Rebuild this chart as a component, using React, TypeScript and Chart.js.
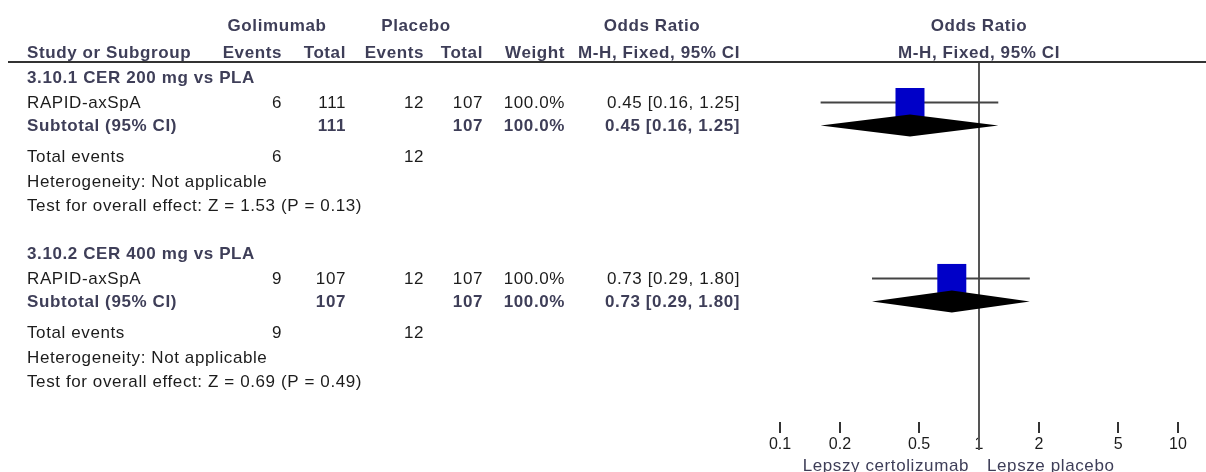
import React, { useEffect, useRef } from 'react';
import { Chart, registerables } from 'chart.js';

Chart.register(...registerables);

// ---- data ----
const GROUPS = ['3.10.1 CER 200 mg vs PLA', '3.10.2 CER 400 mg vs PLA'];
const STUDIES = ['RAPID-axSpA', 'RAPID-axSpA'];
const GOL_EVENTS = [6, 9];
const GOL_TOTAL = [111, 107];
const PLA_EVENTS = [12, 12];
const PLA_TOTAL = [107, 107];
const WEIGHTS = [100.0, 100.0];
const ODDS = [0.45, 0.73];
const CI_LOW = [0.16, 0.29];
const CI_HIGH = [1.25, 1.8];
const Z_VALUES = ['1.53', '0.69'];
const P_VALUES = ['0.13', '0.49'];
const X_TICKS = [0.1, 0.2, 0.5, 1, 2, 5, 10];
const LEGEND_LEFT = 'Lepszy certolizumab';
const LEGEND_RIGHT = 'Lepsze placebo';

// ---- row layout (row units on the y scale) ----
const GROUP_START = [0, 6.9];
const OFF_STUDY = 1.0;
const OFF_SUB = 1.9;
const OFF_TOTAL = 3.1;
const OFF_HET = 4.1;
const OFF_TEST = 5.05;
const HEADER1_ROW = -2.04;
const HEADER2_ROW = -0.98;
const Y_MIN = -0.588;
const Y_MAX = 13.53;

const HEAD_COLOR = '#3e3e58';
const TEXT_COLOR = '#1c1c1c';
const FONT_FAMILY = '"Liberation Sans", Arial, sans-serif';
const FS = 17;

const COL = { study: 27, golEv: 282, golTot: 346, plaEv: 424, plaTot: 483, weight: 565, or: 740 };

const fmtOR = (i: number) =>
  `${ODDS[i].toFixed(2)} [${CI_LOW[i].toFixed(2)}, ${CI_HIGH[i].toFixed(2)}]`;

export default function App() {
  const ref = useRef<HTMLCanvasElement>(null);

  useEffect(() => {
    document.body.style.margin = '0';
    const canvas = ref.current!;

    const forestPlugin = {
      id: 'forest',
      beforeDatasetsDraw(chart: any) {
        const { ctx, scales } = chart;
        const xs = scales.x;
        const ys = scales.y;
        ctx.save();
        // line of no effect
        const x1 = xs.getPixelForValue(1);
        ctx.strokeStyle = '#555';
        ctx.lineWidth = 2;
        ctx.beginPath();
        ctx.moveTo(x1, chart.chartArea.top);
        ctx.lineTo(x1, chart.chartArea.bottom + 28);
        ctx.stroke();
        // whiskers
        ctx.strokeStyle = '#444';
        ctx.lineWidth = 2;
        GROUPS.forEach((_, i) => {
          const y = ys.getPixelForValue(GROUP_START[i] + OFF_STUDY);
          ctx.beginPath();
          ctx.moveTo(xs.getPixelForValue(CI_LOW[i]), y);
          ctx.lineTo(xs.getPixelForValue(CI_HIGH[i]), y);
          ctx.stroke();
        });
        ctx.restore();
      },
      afterDatasetsDraw(chart: any) {
        const { ctx, scales } = chart;
        const xs = scales.x;
        const ys = scales.y;
        ctx.save();
        ctx.fillStyle = '#000';
        GROUPS.forEach((_, i) => {
          const y = ys.getPixelForValue(GROUP_START[i] + OFF_SUB);
          const h = 11;
          ctx.beginPath();
          ctx.moveTo(xs.getPixelForValue(CI_LOW[i]), y);
          ctx.lineTo(xs.getPixelForValue(ODDS[i]), y - h);
          ctx.lineTo(xs.getPixelForValue(CI_HIGH[i]), y);
          ctx.lineTo(xs.getPixelForValue(ODDS[i]), y + h);
          ctx.closePath();
          ctx.fill();
        });
        ctx.restore();
      },
      afterDraw(chart: any) {
        const { ctx, scales } = chart;
        const xs = scales.x;
        const ys = scales.y;
        ctx.save();
        try { (ctx as any).letterSpacing = '0.6px'; } catch (e) {}
        ctx.textBaseline = 'middle';
        const txt = (s: string, x: number, row: number, align: CanvasTextAlign, bold: boolean, color: string) => {
          ctx.font = `${bold ? 'bold ' : ''}${FS}px ${FONT_FAMILY}`;
          ctx.fillStyle = color;
          ctx.textAlign = align;
          ctx.fillText(s, x, ys.getPixelForValue(row) + 1);
        };
        const x1 = xs.getPixelForValue(1);
        // header line
        ctx.strokeStyle = '#333';
        ctx.lineWidth = 2;
        ctx.beginPath();
        ctx.moveTo(8, chart.chartArea.top);
        ctx.lineTo(chart.width, chart.chartArea.top);
        ctx.stroke();
        // headers
        txt('Golimumab', 277, HEADER1_ROW, 'center', true, HEAD_COLOR);
        txt('Placebo', 416, HEADER1_ROW, 'center', true, HEAD_COLOR);
        txt('Odds Ratio', 652, HEADER1_ROW, 'center', true, HEAD_COLOR);
        txt('Odds Ratio', x1, HEADER1_ROW, 'center', true, HEAD_COLOR);
        txt('Study or Subgroup', COL.study, HEADER2_ROW, 'left', true, HEAD_COLOR);
        txt('Events', COL.golEv, HEADER2_ROW, 'right', true, HEAD_COLOR);
        txt('Total', COL.golTot, HEADER2_ROW, 'right', true, HEAD_COLOR);
        txt('Events', COL.plaEv, HEADER2_ROW, 'right', true, HEAD_COLOR);
        txt('Total', COL.plaTot, HEADER2_ROW, 'right', true, HEAD_COLOR);
        txt('Weight', COL.weight, HEADER2_ROW, 'right', true, HEAD_COLOR);
        txt('M-H, Fixed, 95% CI', COL.or, HEADER2_ROW, 'right', true, HEAD_COLOR);
        txt('M-H, Fixed, 95% CI', x1, HEADER2_ROW, 'center', true, HEAD_COLOR);

        GROUPS.forEach((g, i) => {
          const r0 = GROUP_START[i];
          txt(g, COL.study, r0, 'left', true, HEAD_COLOR);
          // study row
          const rs = r0 + OFF_STUDY;
          txt(STUDIES[i], COL.study, rs, 'left', false, TEXT_COLOR);
          txt(String(GOL_EVENTS[i]), COL.golEv, rs, 'right', false, TEXT_COLOR);
          txt(String(GOL_TOTAL[i]), COL.golTot, rs, 'right', false, TEXT_COLOR);
          txt(String(PLA_EVENTS[i]), COL.plaEv, rs, 'right', false, TEXT_COLOR);
          txt(String(PLA_TOTAL[i]), COL.plaTot, rs, 'right', false, TEXT_COLOR);
          txt(`${WEIGHTS[i].toFixed(1)}%`, COL.weight, rs, 'right', false, TEXT_COLOR);
          txt(fmtOR(i), COL.or, rs, 'right', false, TEXT_COLOR);
          // subtotal
          const rsub = r0 + OFF_SUB;
          txt('Subtotal (95% CI)', COL.study, rsub, 'left', true, HEAD_COLOR);
          txt(String(GOL_TOTAL[i]), COL.golTot, rsub, 'right', true, HEAD_COLOR);
          txt(String(PLA_TOTAL[i]), COL.plaTot, rsub, 'right', true, HEAD_COLOR);
          txt(`${WEIGHTS[i].toFixed(1)}%`, COL.weight, rsub, 'right', true, HEAD_COLOR);
          txt(fmtOR(i), COL.or, rsub, 'right', true, HEAD_COLOR);
          // total events
          const rt = r0 + OFF_TOTAL;
          txt('Total events', COL.study, rt, 'left', false, TEXT_COLOR);
          txt(String(GOL_EVENTS[i]), COL.golEv, rt, 'right', false, TEXT_COLOR);
          txt(String(PLA_EVENTS[i]), COL.plaEv, rt, 'right', false, TEXT_COLOR);
          txt('Heterogeneity: Not applicable', COL.study, r0 + OFF_HET, 'left', false, TEXT_COLOR);
          txt(`Test for overall effect: Z = ${Z_VALUES[i]} (P = ${P_VALUES[i]})`, COL.study, r0 + OFF_TEST, 'left', false, TEXT_COLOR);
        });

        // favours labels
        ctx.font = `${FS}px ${FONT_FAMILY}`;
        ctx.fillStyle = HEAD_COLOR;
        ctx.textAlign = 'right';
        ctx.fillText(LEGEND_LEFT, x1 - 10, 466);
        ctx.textAlign = 'left';
        ctx.fillText(LEGEND_RIGHT, x1 + 8, 466);
        ctx.restore();
      },
    };

    const chart = new Chart(canvas, {
      type: 'scatter',
      data: {
        datasets: [
          {
            data: ODDS.map((v, i) => ({ x: v, y: GROUP_START[i] + OFF_STUDY })),
            pointStyle: 'rect',
            pointRadius: 20.5,
            pointHoverRadius: 20.5,
            backgroundColor: '#0000c8',
            borderColor: '#0000c8',
            borderWidth: 0,
          },
        ],
      },
      options: {
        responsive: false,
        animation: false,
        layout: { padding: { left: 780, right: 28, top: 62, bottom: 0 } },
        plugins: { legend: { display: false }, tooltip: { enabled: false } },
        scales: {
          x: {
            type: 'logarithmic',
            min: 0.1,
            max: 10,
            position: 'bottom',
            afterBuildTicks: (s: any) => {
              s.ticks = X_TICKS.map((v) => ({ value: v }));
            },
            afterFit: (s: any) => {
              s.height = 50;
            },
            ticks: {
              autoSkip: false,
              maxRotation: 0,
              padding: 2,
              color: '#1c1c1c',
              font: { family: FONT_FAMILY, size: 16 },
              callback: (v: any) => String(v),
            },
            grid: {
              display: true,
              drawOnChartArea: false,
              drawTicks: true,
              tickLength: 11,
              color: '#333',
              lineWidth: 2,
            },
            border: { display: false },
          },
          y: { display: false, reverse: true, min: Y_MIN, max: Y_MAX },
        },
      },
      plugins: [forestPlugin],
    } as any);

    return () => chart.destroy();
  }, []);

  return <canvas ref={ref} width={1206} height={472} style={{ display: 'block' }} />;
}
